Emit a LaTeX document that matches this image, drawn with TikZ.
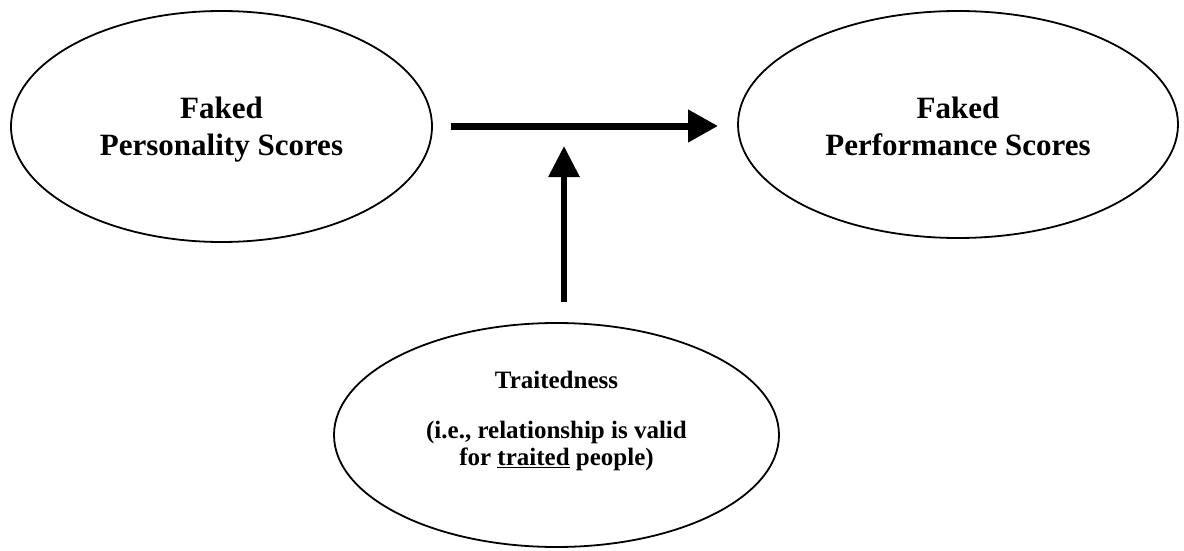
\documentclass[tikz,border=0pt]{standalone}
\usepackage{fontspec}
\setmainfont{Liberation Serif}
\usetikzlibrary{shapes.geometric,arrows.meta}
\begin{document}
\begin{tikzpicture}[x=1pt,y=-1pt,
  oval/.style={ellipse,draw,line width=1.8pt,inner sep=0pt,font=\bfseries},
  bigtext/.style={align=center,font=\fontsize{31}{37}\selectfont\bfseries},
  smalltext/.style={align=center,font=\fontsize{25}{27}\selectfont\bfseries},
  flow/.style={line width=7pt,-{Triangle[length=30pt,width=31pt]}},
  moder/.style={line width=6pt,-{Triangle[length=31pt,width=30pt]}}]
  \useasboundingbox (0,0) rectangle (1184,551);

  % the three constructs
  \node[oval,minimum width=421pt,minimum height=231pt] (pers) at (221.5,126.5) {};
  \node[oval,minimum width=440pt,minimum height=227pt] (perf) at (958,124.5) {};
  \node[oval,minimum width=445pt,minimum height=224pt] (trait) at (556.5,435) {};

  % labels inside the ovals
  \node[bigtext] (perslbl) at (221.5,130) {Faked\\Personality Scores};
  \node[bigtext] (perflbl) at (958,126) {Faked\\Performance Scores};
  \node[smalltext] (traitlbl) at (556.5,421) {Traitedness\\[23pt](i.e., relationship is valid\\for \underline{traited} people)};

  % main effect and moderator
  \draw[flow,shorten <=18pt,shorten >=19pt] (pers.east |- 0,126) -- (perf.west |- 0,126)
    coordinate[pos=0.431] (mid);
  \draw[moder,shorten <=20pt,shorten >=20pt] (mid |- trait.north) -- (mid);
\end{tikzpicture}
\end{document}
